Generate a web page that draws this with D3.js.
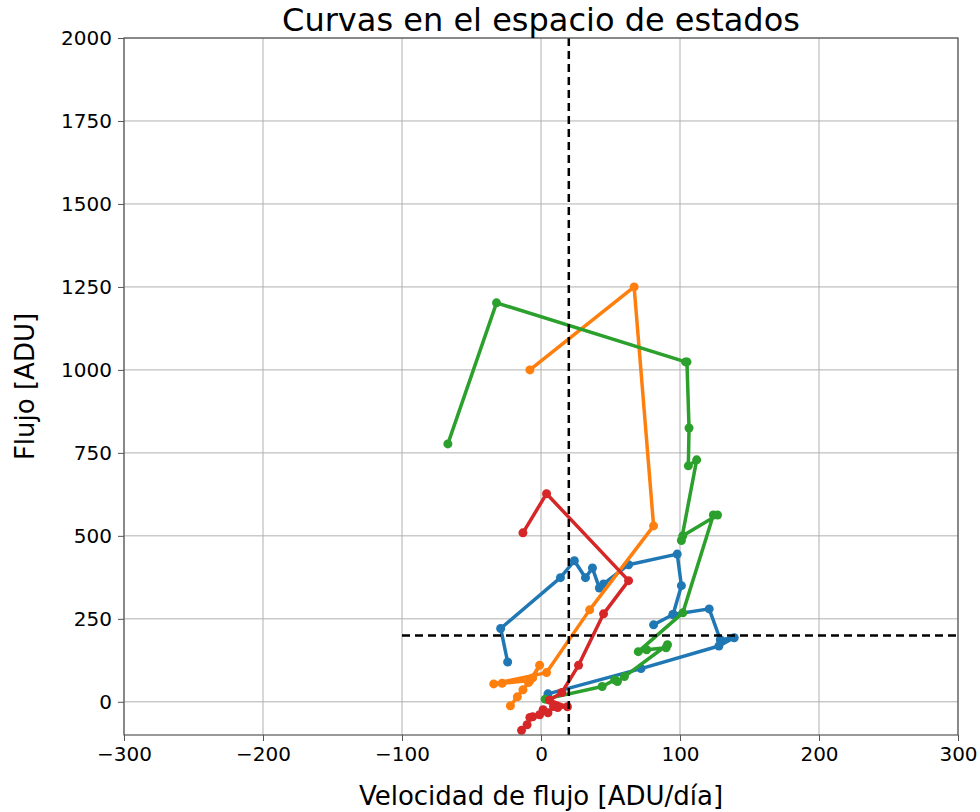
<!DOCTYPE html>
<html><head><meta charset="utf-8">
<script src="https://cdn.jsdelivr.net/npm/d3@7"></script>
<style>body{margin:0;background:#fff}text{font-family:"DejaVu Sans",sans-serif}</style>
</head><body><svg id="c" width="980" height="812"></svg>
<script>
const xTicks=[-300,-200,-100,0,100,200,300];
const yTicks=[0,250,500,750,1000,1250,1500,1750,2000];
const blueX=[-24,-29,14,24,32,37,42,45,63,98,101,95,81,95,121,129,139,128,72,5];
const blueY=[120,221,374,425,374,403,343,355,413,445,350,263,232,263,280,187,193,168,100,24];
const orangeX=[-8,67,81,35,4,-34,-28,-8,-1,-6,-9,-13,-17,-22];
const orangeY=[1000,1250,530,277,88,54,56,64,110,72,58,36,15,-12];
const greenX=[3,44,53,55,60,91,90,76,70,102,124,127,102,101,112,106,106.5,105,104,-32,-67];
const greenY=[8,46,66,61,76,172,163,157,151,268,563,563,500,486,729,711,825,1024,1024,1202,777];
const redX=[-13,4,63,45,27,15,6,19,12,9,5,1.5,-1,-6,-8,-10,-14];
const redY=[509,627,365,265,110,28,5,-15,-17,-14,-33,-24,-39,-45,-47,-69,-86];
const series=[
 {name:"s1",x:blueX,y:blueY,color:"#1f77b4"},
 {name:"s2",x:orangeX,y:orangeY,color:"#ff7f0e"},
 {name:"s3",x:greenX,y:greenY,color:"#2ca02c"},
 {name:"s4",x:redX,y:redY,color:"#d62728"}
];
const L=124,R=958,T=38,B=735;
const svg=d3.select("#c");
const x=d3.scaleLinear().domain([-300,300]).range([L,R]);
const y=d3.scaleLinear().domain([-100,2000]).range([B,T]);
// grid
svg.append("g").selectAll("line").data(xTicks).join("line")
 .attr("x1",d=>x(d)).attr("x2",d=>x(d)).attr("y1",T).attr("y2",B)
 .attr("stroke","#b0b0b0").attr("stroke-width",1);
svg.append("g").selectAll("line").data(yTicks).join("line")
 .attr("x1",L).attr("x2",R).attr("y1",d=>y(d)).attr("y2",d=>y(d))
 .attr("stroke","#b0b0b0").attr("stroke-width",1);
// axes
const xa=svg.append("g").attr("transform",`translate(0,${B})`)
 .call(d3.axisBottom(x).tickValues(xTicks).tickSize(6).tickPadding(6).tickFormat(d=>d<0?"\u2212"+Math.abs(d):String(d)));
const ya=svg.append("g").attr("transform",`translate(${L},0)`)
 .call(d3.axisLeft(y).tickValues(yTicks).tickSize(6).tickPadding(6).tickFormat(d=>String(d)));
[xa,ya].forEach(g=>{g.select(".domain").remove();
 g.selectAll("line").attr("stroke","#555");
 g.selectAll("text").attr("font-size",20).attr("fill","#000").style("font-family","DejaVu Sans");});
// series
const line=d3.line().x(d=>x(d[0])).y(d=>y(d[1]));
series.forEach(s=>{
 const pts=s.x.map((v,i)=>[v,s.y[i]]);
 const g=svg.append("g");
 g.append("path").attr("d",line(pts)).attr("fill","none").attr("stroke",s.color)
  .attr("stroke-width",3.5).attr("stroke-linejoin","round");
 g.selectAll("circle").data(pts).join("circle").attr("cx",d=>x(d[0])).attr("cy",d=>y(d[1]))
  .attr("r",4.5).attr("fill",s.color);
});
// dashed reference lines
svg.append("line").attr("x1",x(20)).attr("x2",x(20)).attr("y1",y(-100)).attr("y2",y(2000))
 .attr("stroke","#000").attr("stroke-width",2.5).attr("stroke-dasharray","8,5");
svg.append("line").attr("x1",x(-100)).attr("x2",x(300)).attr("y1",y(200)).attr("y2",y(200))
 .attr("stroke","#000").attr("stroke-width",2.5).attr("stroke-dasharray","8,5");
// frame
svg.append("rect").attr("x",L).attr("y",T).attr("width",R-L).attr("height",B-T)
 .attr("fill","none").attr("stroke","#555").attr("stroke-width",1.2);
// texts
svg.append("text").attr("x",(L+R)/2).attr("y",31).attr("text-anchor","middle")
 .attr("font-size",32).text("Curvas en el espacio de estados");
svg.append("text").attr("x",(L+R)/2).attr("y",805).attr("text-anchor","middle")
 .attr("font-size",26).text("Velocidad de flujo [ADU/día]");
svg.append("text").attr("transform",`translate(34,${(T+B)/2}) rotate(-90)`).attr("text-anchor","middle")
 .attr("font-size",26).text("Flujo [ADU]");
</script></body></html>
